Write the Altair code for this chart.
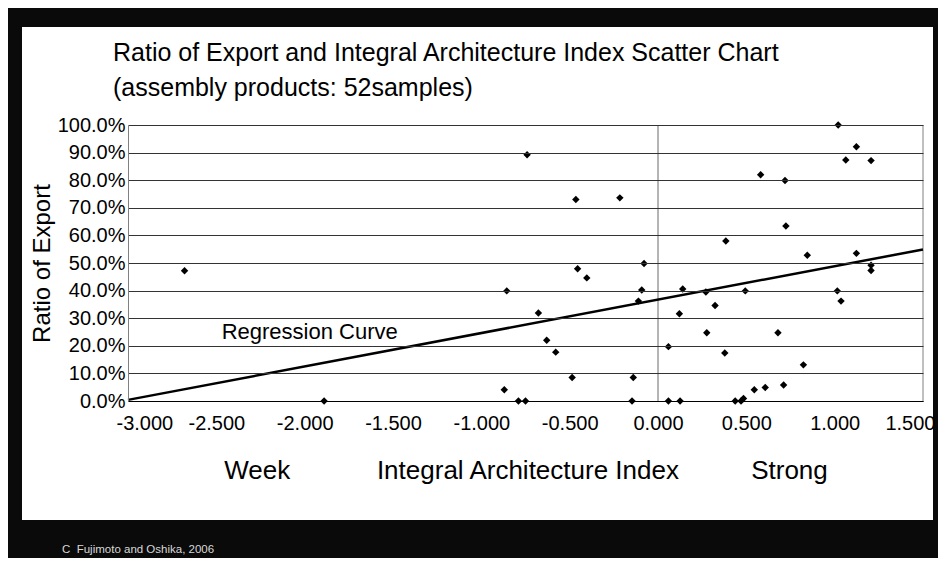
import altair as alt
import pandas as pd

FONT = "Liberation Sans Narrow, Arial Narrow, Liberation Sans, Arial, sans-serif"
NB = "\u00a0"

# ---- data ----
x_vals = [-2.68, -1.89, -0.741, -0.465, -0.216, -0.856, -0.455, -0.403, -0.079, -0.092,
          -0.111, -0.677, -0.630, -0.579, -0.486, -0.140, -0.870, -0.790, -0.750, -0.147,
          1.02, 1.123, 1.063, 1.206, 0.581, 0.719, 0.724, 0.384, 0.845, 1.123,
          1.206, 1.206, 0.140, 0.271, 0.494, 1.015, 1.036, 0.323, 0.121, 0.276,
          0.679, 0.059, 0.378, 0.823, 0.545, 0.607, 0.711, 0.484, 0.437, 0.059,
          0.125, 0.470]
y_vals = [47.2, 0.0, 89.2, 73.0, 73.6, 39.9, 47.9, 44.6, 49.8, 40.2,
          36.2, 31.9, 22.0, 17.7, 8.5, 8.5, 4.1, 0.0, 0.0, 0.0,
          100.0, 92.1, 87.3, 87.1, 82.0, 79.9, 63.4, 58.0, 52.8, 53.5,
          49.2, 47.3, 40.6, 39.5, 39.9, 39.9, 36.2, 34.6, 31.6, 24.7,
          24.7, 19.7, 17.4, 13.1, 4.1, 4.9, 5.8, 0.9, 0.0, 0.0,
          0.0, 0.0]
reg_x = [-3.0, 1.5]
reg_y = [0.4, 54.9]
x_ticks = [-3.0, -2.5, -2.0, -1.5, -1.0, -0.5, 0.0, 0.5, 1.0, 1.5]
y_ticks = [0, 10, 20, 30, 40, 50, 60, 70, 80, 90, 100]
ann_x = [-2.47]
ann_y = [25.0]
ann_text = ["Regression Curve"]
title_line1 = ["Ratio of Export and Integral Architecture Index Scatter Chart"]
title_line2 = ["(assembly products: 52samples)"]
y_title = "Ratio of Export"
x_title_parts = ["Week", "Integral Architecture Index", "Strong"]
footnote = ["C" + NB + NB + "Fujimoto and Oshika, 2006"]

x_title = x_title_parts[0] + NB * 12 + x_title_parts[1] + NB * 10 + x_title_parts[2]

xscale = alt.Scale(domain=[x_ticks[0], x_ticks[-1]], nice=False, zero=False)
yscale = alt.Scale(domain=[y_ticks[0], y_ticks[-1]], nice=False)

x_axis = alt.Axis(
    values=x_ticks,
    labelExpr="replace(format(datum.value, '.3f'), '\u2212', '-')",
    title=x_title, titleFontSize=26, titleFontWeight="normal", titleColor="black",
    titleY=69, titleBaseline="middle", titleFont=FONT,
    grid=False, ticks=False, domainColor="black", domainWidth=1,
    labelFontSize=20, labelColor="black", labelPadding=12, labelFont=FONT,
    labelFlush=True, labelFlushOffset=12, zindex=1,
)
y_axis = alt.Axis(
    values=y_ticks,
    labelExpr="format(datum.value, '.1f') + '%'",
    title=y_title, titleFontSize=24, titleFontWeight="normal", titleColor="black",
    titleX=-86, titleY=138, titleAngle=270, titleBaseline="middle", titleAlign="center",
    titleFont=FONT,
    grid=True, gridColor="#333333", gridWidth=1,
    ticks=False, domainColor="#808080", domainWidth=1,
    labelFontSize=20, labelColor="black", labelPadding=3, labelFont=FONT, zindex=1,
)

pts = pd.DataFrame({"x": x_vals, "y": y_vals})
reg = pd.DataFrame({"x": reg_x, "y": reg_y})
ann = pd.DataFrame({"x": ann_x, "y": ann_y, "t": ann_text})
zero_df = pd.DataFrame({"x": [0.0]})
edge_df = pd.DataFrame({"x": [x_ticks[-1]]})
foot_df = pd.DataFrame({"t": footnote})
t1_df = pd.DataFrame({"t": title_line1})
t2_df = pd.DataFrame({"t": title_line2})

panel = alt.Chart(pd.DataFrame({"k": [0]})).mark_rect(color="white").encode(
    x=alt.value(-106), x2=alt.value(805), y=alt.value(-98), y2=alt.value(395)
)

zero_rule = alt.Chart(zero_df).mark_rule(color="#6a6a6a", strokeWidth=1).encode(
    x=alt.X("x:Q", scale=xscale, axis=x_axis)
)
edge_rule = alt.Chart(edge_df).mark_rule(color="#808080", strokeWidth=1).encode(
    x=alt.X("x:Q", scale=xscale, axis=x_axis)
)

line = alt.Chart(reg).mark_line(color="black", strokeWidth=2.5).encode(
    x=alt.X("x:Q", scale=xscale, axis=x_axis),
    y=alt.Y("y:Q", scale=yscale, axis=y_axis),
)

points = alt.Chart(pts).mark_point(
    shape="diamond", filled=True, color="black", size=55, opacity=1
).encode(
    x=alt.X("x:Q", scale=xscale, axis=x_axis),
    y=alt.Y("y:Q", scale=yscale, axis=y_axis),
)

label = alt.Chart(ann).mark_text(
    align="left", baseline="middle", fontSize=22, font=FONT, color="black"
).encode(
    x=alt.X("x:Q", scale=xscale, axis=x_axis),
    y=alt.Y("y:Q", scale=yscale, axis=y_axis),
    text="t:N",
)

title1 = alt.Chart(t1_df).mark_text(
    align="left", baseline="middle", fontSize=25, font=FONT, color="black"
).encode(x=alt.value(-15), y=alt.value(-72), text="t:N")

title2 = alt.Chart(t2_df).mark_text(
    align="left", baseline="middle", fontSize=25, font=FONT, color="black"
).encode(x=alt.value(-15), y=alt.value(-37), text="t:N")

foot = alt.Chart(foot_df).mark_text(
    align="left", baseline="middle", fontSize=11.5, font=FONT, color="#d8d8d8"
).encode(
    x=alt.value(-66), y=alt.value(425), text="t:N"
)

chart = alt.layer(panel, zero_rule, edge_rule, line, points, label, title1, title2, foot).properties(
    width=795,
    height=276,
    autosize=alt.AutoSizeParams(type="none"),
    padding={"left": 120, "top": 117, "right": 15, "bottom": 157},
    background="#0a0a0a",
).configure_view(stroke=None)

chart.save("out.html", embed_options={"renderer": "svg", "actions": False})
